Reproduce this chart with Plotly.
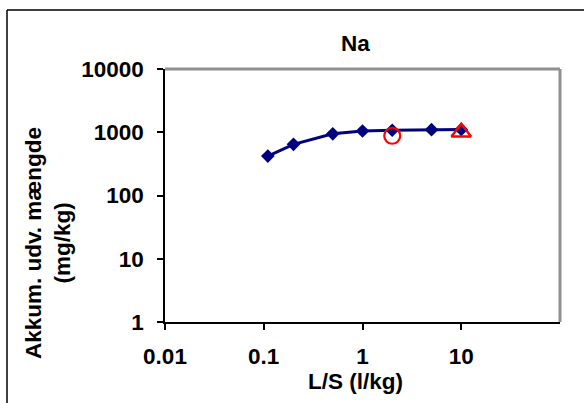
import plotly.graph_objects as go

# Data
ls_values = [0.11, 0.2, 0.5, 1.0, 2.0, 5.0, 10.0]
na_values = [420, 645, 945, 1045, 1075, 1100, 1110]
circle_x = [2.0]
circle_y = [880]
triangle_x = [10.0]
triangle_y = [1000]
x_ticks = [0.01, 0.1, 1, 10]
x_tick_labels = ["0.01", "0.1", "1", "10"]
y_ticks = [1, 10, 100, 1000, 10000]
y_tick_labels = ["1", "10", "100", "1000", "10000"]

W, H = 584, 403
L, R, T, B = 165, 560, 69, 322
pw, ph = R - L, B - T

def px(x):
    return (x - L) / pw

def py(y):
    return (B - y) / ph

FONT = "Liberation Sans, Arial, sans-serif"
FS = 22.5

fig = go.Figure()
fig.add_trace(go.Scatter(
    x=ls_values, y=na_values, mode="lines+markers",
    line=dict(color="#000080", width=3),
    marker=dict(symbol="diamond", size=10.5, color="#000080"),
    showlegend=False, cliponaxis=False,
))
fig.add_trace(go.Scatter(
    x=circle_x, y=circle_y, mode="markers",
    marker=dict(symbol="circle-open", size=16, color="#ff0000", line=dict(width=2.2, color="#ff0000")),
    showlegend=False, cliponaxis=False,
))
fig.add_trace(go.Scatter(
    x=triangle_x, y=triangle_y, mode="markers",
    marker=dict(symbol="triangle-up-open", size=17, color="#ff0000", line=dict(width=2.4, color="#ff0000")),
    showlegend=False, cliponaxis=False,
))

axis_common = dict(
    type="log", showgrid=False, zeroline=False,
    showline=True, linecolor="#000000", linewidth=1.5,
    ticks="outside", ticklen=6, tickwidth=1.5, tickcolor="#000000",
    tickfont=dict(family=FONT, size=FS, color="#000000", weight="bold"),
)

fig.update_layout(
    width=W, height=H,
    margin=dict(l=L, r=W - R, t=T, b=H - B),
    paper_bgcolor="white", plot_bgcolor="white",
    xaxis=dict(range=[-2, 2], tickvals=x_ticks, ticktext=x_tick_labels,
               ticklabelstandoff=7, **axis_common),
    yaxis=dict(range=[0, 4], tickvals=y_ticks, ticktext=y_tick_labels,
               ticklabelstandoff=9, **axis_common),
    shapes=[
        dict(type="line", xref="paper", yref="paper", x0=0, x1=1, y0=1, y1=1,
             line=dict(color="#909090", width=3), layer="below"),
        dict(type="line", xref="paper", yref="paper", x0=1, x1=1, y0=0, y1=1,
             line=dict(color="#909090", width=3), layer="below"),
        dict(type="line", xref="paper", yref="paper", x0=px(7), x1=px(600), y0=py(10), y1=py(10),
             line=dict(color="#000000", width=1.5)),
        dict(type="line", xref="paper", yref="paper", x0=px(7), x1=px(7), y0=py(10), y1=py(420),
             line=dict(color="#000000", width=1.5)),
    ],
    annotations=[
        dict(text="Na", xref="paper", yref="paper", x=px(355), y=py(44),
             xanchor="center", yanchor="middle", showarrow=False,
             font=dict(family=FONT, size=FS, color="#000000", weight="bold")),
        dict(text="L/S (l/kg)", xref="paper", yref="paper", x=px(355), y=py(381),
             xanchor="center", yanchor="middle", showarrow=False,
             font=dict(family=FONT, size=FS, color="#000000", weight="bold")),
        dict(text="Akkum. udv. mængde<br>(mg/kg)", xref="paper", yref="paper",
             x=px(48), y=py(243), textangle=-90,
             xanchor="center", yanchor="middle", showarrow=False,
             font=dict(family=FONT, size=FS, color="#000000", weight="bold")),
    ],
)

fig.write_html("out.html", config={"displayModeBar": False},
               post_script="document.body.style.margin='0';document.body.style.overflow='hidden';")
